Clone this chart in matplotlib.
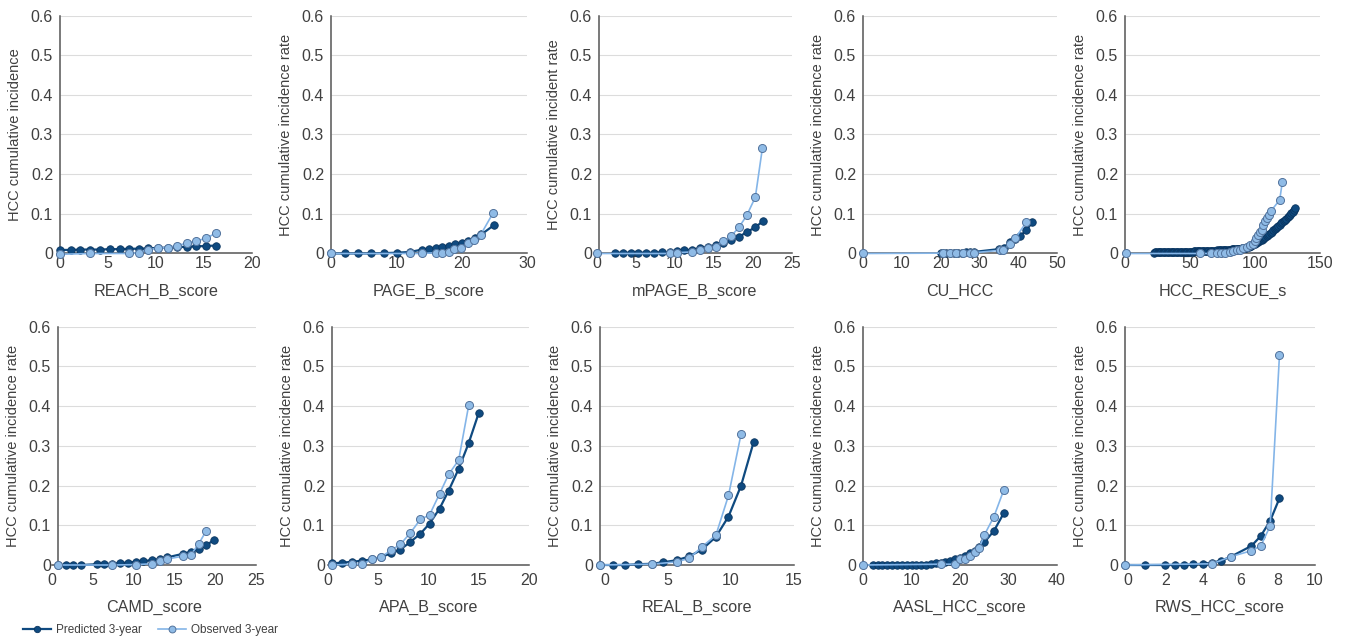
import numpy as np
import matplotlib
matplotlib.use("Agg")
import matplotlib.pyplot as plt
from matplotlib.ticker import FuncFormatter

plt.rcParams['font.family'] = ['Liberation Sans', 'DejaVu Sans']

# ---- data ----
reach_x_pred = [0, 1.1, 2.1, 3.1, 4.2, 5.2, 6.2, 7.2, 8.2, 9.2, 10.2, 11.2, 12.2, 13.2, 14.2, 15.2, 16.2]
reach_y_pred = [0.009, 0.009, 0.010, 0.010, 0.010, 0.011, 0.011, 0.012, 0.012, 0.013, 0.014, 0.015, 0.016, 0.017, 0.018, 0.019, 0.020]
reach_x_obs = [0, 3.1, 7.2, 8.2, 9.2, 10.2, 11.2, 12.2, 13.2, 14.2, 15.2, 16.2]
reach_y_obs = [-0.002, 0, 0, 0.002, 0.010, 0.013, 0.015, 0.020, 0.026, 0.032, 0.038, 0.051]

pageb_x_pred = [0, 2.2, 4.2, 6.1, 8.1, 10.1, 12.1, 14.0, 15.0, 16.0, 17.0, 18.0, 19.0, 20.0, 21.0, 22.0, 23.0, 24.9]
pageb_y_pred = [0, 0, 0, 0, 0.001, 0.002, 0.004, 0.010, 0.012, 0.014, 0.017, 0.020, 0.023, 0.027, 0.032, 0.038, 0.048, 0.071]
pageb_x_obs = [0, 12.1, 14.0, 16.0, 17.0, 18.0, 18.9, 19.9, 20.9, 21.9, 22.9, 24.8]
pageb_y_obs = [0, 0, 0, 0.002, 0.002, 0.003, 0.012, 0.014, 0.027, 0.033, 0.047, 0.102]

mpageb_x_pred = [2.3, 3.3, 4.3, 5.3, 6.3, 7.3, 8.3, 9.3, 10.2, 11.2, 12.2, 13.2, 14.2, 15.2, 16.2, 17.2, 18.2, 19.2, 20.3, 21.3]
mpageb_y_pred = [0.002, 0.002, 0.002, 0.002, 0.002, 0.002, 0.003, 0.003, 0.006, 0.008, 0.010, 0.013, 0.017, 0.021, 0.027, 0.034, 0.042, 0.054, 0.066, 0.082]
mpageb_x_obs = [0, 9.3, 10.2, 12.2, 13.2, 14.2, 15.2, 16.2, 17.2, 18.2, 19.2, 20.3, 21.2]
mpageb_y_obs = [0, 0, 0.002, 0.004, 0.008, 0.013, 0.017, 0.031, 0.044, 0.066, 0.096, 0.142, 0.265]

cuhcc_x_pred = [20.2, 21.3, 22.3, 23.4, 24.5, 25.5, 26.6, 27.7, 28.6, 35.0, 36.3, 38.0, 39.3, 40.5, 42.1, 43.6]
cuhcc_y_pred = [0.002, 0.002, 0.002, 0.002, 0.002, 0.002, 0.003, 0.003, 0.004, 0.011, 0.015, 0.028, 0.036, 0.045, 0.058, 0.079]
cuhcc_x_obs = [0, 20.6, 22.3, 24.0, 25.8, 27.5, 28.6, 35.2, 36.1, 38.0, 39.3, 42.1]
cuhcc_y_obs = [0, 0.001, 0.001, 0.001, 0.001, 0.001, 0.002, 0.008, 0.008, 0.024, 0.039, 0.079]

rescue_x_pred = list(range(22, 132))
rescue_y_pred = [
    0.0025, 0.0026, 0.0027, 0.0028, 0.0029, 0.0030, 0.0030, 0.0031, 0.0032, 0.0033,
    0.0033, 0.0034, 0.0035, 0.0035, 0.0036, 0.0037, 0.0037, 0.0038, 0.0039, 0.0040,
    0.0040, 0.0041, 0.0042, 0.0043, 0.0044, 0.0045, 0.0046, 0.0047, 0.0048, 0.0049,
    0.0050, 0.0051, 0.0052, 0.0053, 0.0055, 0.0056, 0.0057, 0.0059, 0.0060, 0.0062,
    0.0063, 0.0064, 0.0066, 0.0067, 0.0069, 0.0070, 0.0072, 0.0074, 0.0075, 0.0077,
    0.0079, 0.0081, 0.0083, 0.0085, 0.0087, 0.0089, 0.0091, 0.0094, 0.0096, 0.0099,
    0.0102, 0.0105, 0.0108, 0.0111, 0.0114, 0.0117, 0.0120, 0.0124, 0.0128, 0.0132,
    0.0137, 0.0145, 0.0155, 0.0165, 0.0180, 0.0195, 0.0210, 0.0230, 0.0250, 0.0270,
    0.029, 0.031, 0.033, 0.035, 0.037, 0.040, 0.042, 0.045, 0.047, 0.050,
    0.052, 0.055, 0.058, 0.061, 0.064, 0.067, 0.070, 0.073, 0.076, 0.079,
    0.082, 0.085, 0.088, 0.091, 0.094, 0.097, 0.101, 0.105, 0.109, 0.114]
rescue_x_obs = [1, 58, 66, 70.5, 74, 77, 81, 83, 86, 88.5, 91, 93.6, 96, 98.7, 100, 101,
                102.6, 104, 105, 106.4, 107.7, 109, 110.8, 112, 119, 121]
rescue_y_obs = [0, 0, 0, 0.002, 0.0025, 0.0025, 0.004, 0.006, 0.008, 0.010, 0.013, 0.016,
                0.021, 0.025, 0.031, 0.038, 0.047, 0.053, 0.059, 0.072, 0.082, 0.089,
                0.097, 0.106, 0.135, 0.180]

camd_x_pred = [0.7, 1.7, 2.6, 3.6, 5.5, 6.4, 7.4, 8.3, 9.3, 10.3, 11.2, 12.2, 13.2, 14.1, 16.0, 17.0, 18.0, 18.9, 19.8]
camd_y_pred = [0, 0, 0, 0, 0.002, 0.003, 0.003, 0.005, 0.006, 0.008, 0.010, 0.012, 0.015, 0.019, 0.028, 0.033, 0.040, 0.050, 0.062]
camd_x_obs = [0.7, 7.4, 10.3, 12.2, 13.2, 14.1, 16.0, 17.0, 18.0, 18.9]
camd_y_obs = [0, 0, 0.001, 0.003, 0.010, 0.015, 0.022, 0.025, 0.054, 0.086]

apab_x_pred = [0.4, 1.4, 2.4, 3.4, 4.4, 5.3, 6.3, 7.2, 8.2, 9.2, 10.1, 11.1, 12.0, 13.0, 14.0, 15.0]
apab_y_pred = [0.004, 0.006, 0.008, 0.011, 0.014, 0.021, 0.029, 0.039, 0.058, 0.079, 0.104, 0.142, 0.187, 0.242, 0.307, 0.383]
apab_x_obs = [0.4, 2.4, 3.4, 4.4, 5.3, 6.3, 7.2, 8.2, 9.2, 10.1, 11.1, 12.0, 13.0, 14.0]
apab_y_obs = [0, 0.002, 0.002, 0.014, 0.021, 0.037, 0.052, 0.081, 0.115, 0.126, 0.179, 0.228, 0.264, 0.402]

realb_x_pred = [-0.4, 0.6, 1.6, 2.6, 3.7, 4.6, 5.7, 6.7, 7.7, 8.8, 9.8, 10.8, 11.8]
realb_y_pred = [0, 0, 0, 0.002, 0.003, 0.007, 0.012, 0.022, 0.039, 0.071, 0.122, 0.200, 0.310]
realb_x_obs = [-0.4, 3.7, 5.7, 6.7, 7.7, 8.8, 9.8, 10.8]
realb_y_obs = [0, 0.002, 0.008, 0.017, 0.046, 0.075, 0.175, 0.330]

aasl_x_pred = [2, 3, 4, 5, 6, 7, 8, 9, 10, 11, 12, 13, 14, 15, 16, 17, 18, 19, 20, 21, 22, 23, 24, 25, 27, 29]
aasl_y_pred = [0, 0, 0, 0, 0, 0, 0, 0, 0.001, 0.001, 0.001, 0.001, 0.002, 0.004, 0.006, 0.008, 0.011, 0.014, 0.018, 0.023, 0.029, 0.036, 0.046, 0.057, 0.086, 0.130]
aasl_x_obs = [0, 16, 19, 20, 21, 22, 23, 24, 25, 27, 29]
aasl_y_obs = [0, 0.002, 0.002, 0.014, 0.014, 0.023, 0.033, 0.044, 0.075, 0.122, 0.188]

rws_x_pred = [-0.15, 0.9, 2.0, 2.5, 3.0, 3.5, 4.0, 4.5, 5.0, 5.5, 6.6, 7.1, 7.6, 8.1]
rws_y_pred = [0, 0, 0, 0, 0, 0.002, 0.003, 0.006, 0.011, 0.021, 0.048, 0.073, 0.111, 0.168]
rws_x_obs = [-0.15, 4.5, 5.5, 6.6, 7.1, 7.6, 8.1]
rws_y_obs = [0, 0.003, 0.021, 0.036, 0.048, 0.098, 0.528]

x_labels = ['REACH_B_score', 'PAGE_B_score', 'mPAGE_B_score', 'CU_HCC', 'HCC_RESCUE_s',
            'CAMD_score', 'APA_B_score', 'REAL_B_score', 'AASL_HCC_score', 'RWS_HCC_score']
y_labels = ['HCC cumulative incidence', 'HCC cumulative incidence rate', 'HCC cumulative incident rate',
            'HCC cumulative incidence rate', 'HCC cumulative incidence rate',
            'HCC cumulative incidence rate', 'HCC cumulative incidence rate', 'HCC cumulative incidence rate',
            'HCC cumulative incidence rate', 'HCC cumulative incidence rate']
y_ticks = [0, 0.1, 0.2, 0.3, 0.4, 0.5, 0.6]

series = [
    (reach_x_pred, reach_y_pred, reach_x_obs, reach_y_obs),
    (pageb_x_pred, pageb_y_pred, pageb_x_obs, pageb_y_obs),
    (mpageb_x_pred, mpageb_y_pred, mpageb_x_obs, mpageb_y_obs),
    (cuhcc_x_pred, cuhcc_y_pred, cuhcc_x_obs, cuhcc_y_obs),
    (rescue_x_pred, rescue_y_pred, rescue_x_obs, rescue_y_obs),
    (camd_x_pred, camd_y_pred, camd_x_obs, camd_y_obs),
    (apab_x_pred, apab_y_pred, apab_x_obs, apab_y_obs),
    (realb_x_pred, realb_y_pred, realb_x_obs, realb_y_obs),
    (aasl_x_pred, aasl_y_pred, aasl_x_obs, aasl_y_obs),
    (rws_x_pred, rws_y_pred, rws_x_obs, rws_y_obs),
]

# ---- layout (pixels) : left px, right px, xlim, tick step, spine x ----
W, H = 1353, 644
rows = [(15.5, 253.5), (326.7, 565.0)]
row_xpad = [2, 6]
row_labelpad = [9, 8]
layout = [
    (60, 252, (0, 20), 5, 0),
    (331, 527, (0, 30), 10, 0),
    (597, 792, (0, 25), 5, 0.25),
    (863, 1057, (0, 50), 10, 0),
    (1125, 1320, (0, 150), 50, 0),
    (52, 256, (0, 25), 5, 0.7),
    (328, 529, (0, 20), 5, 0.4),
    (600, 794, (-0.4, 15), 5, -0.4),
    (863, 1057, (0, 40), 10, 0),
    (1125, 1315, (-0.16, 10), 2, -0.16),
]

pred_col = '#0f4a80'
obs_line = '#84b5e8'
obs_face = '#8fbbe6'
obs_edge = '#52739c'
txt_col = '#404040'

fig = plt.figure(figsize=(W / 100, H / 100), dpi=100)

handles = None
for i, (xp, yp, xo, yo) in enumerate(series):
    x0, x1, xlim, step, spx = layout[i]
    r = i // 5
    ytop, ybot = rows[r]
    ax = fig.add_axes([x0 / W, 1 - ybot / H, (x1 - x0) / W, (ybot - ytop) / H])
    ax.set_xlim(*xlim)
    ax.set_ylim(0, 0.6)
    ax.hlines(y_ticks[1:], spx, xlim[1], color='#dcdcdc', lw=0.8, zorder=0)

    h1, = ax.plot(xp, yp, '-o', color=pred_col, lw=1.6, ms=5.4, mfc=pred_col,
                  mec='#0a3560', mew=0.6, clip_on=False, zorder=3, label='Predicted 3-year')
    h2, = ax.plot(xo, yo, '-o', color=obs_line, lw=1.2, ms=5.8, mfc=obs_face,
                  mec=obs_edge, mew=0.7, clip_on=False, zorder=4, label='Observed 3-year')
    if handles is None:
        handles = [h1, h2]

    for s in ['top', 'right']:
        ax.spines[s].set_visible(False)
    ax.spines['left'].set_position(('data', spx))
    for s in ['left', 'bottom']:
        ax.spines[s].set_color('#555555')
        ax.spines[s].set_linewidth(1.1)
        ax.spines[s].set_zorder(2)

    ax.set_xticks(np.arange(0, xlim[1] + step / 2, step))
    ax.set_yticks(y_ticks)
    ax.yaxis.set_major_formatter(FuncFormatter(lambda v, p: '0' if v == 0 else '%.1f' % v))
    ax.tick_params(axis='both', length=0, labelsize=11.5, colors=txt_col)
    ax.tick_params(axis='y', pad=5)
    ax.tick_params(axis='x', pad=row_xpad[r])
    ax.set_xlabel(x_labels[i], fontsize=11.6, color=txt_col, labelpad=row_labelpad[r])
    ax.set_ylabel(y_labels[i], fontsize=10.5, color=txt_col, labelpad=6)

fig.legend(handles, ['Predicted 3-year', 'Observed 3-year'], loc='center left',
           bbox_to_anchor=(12 / W, 1 - 630 / H), ncol=2, frameon=False, fontsize=8.5,
           handlelength=2.4, columnspacing=1.4, handletextpad=0.4, labelcolor=txt_col,
           markerscale=0.85)

fig.savefig('out.png', dpi=100)
